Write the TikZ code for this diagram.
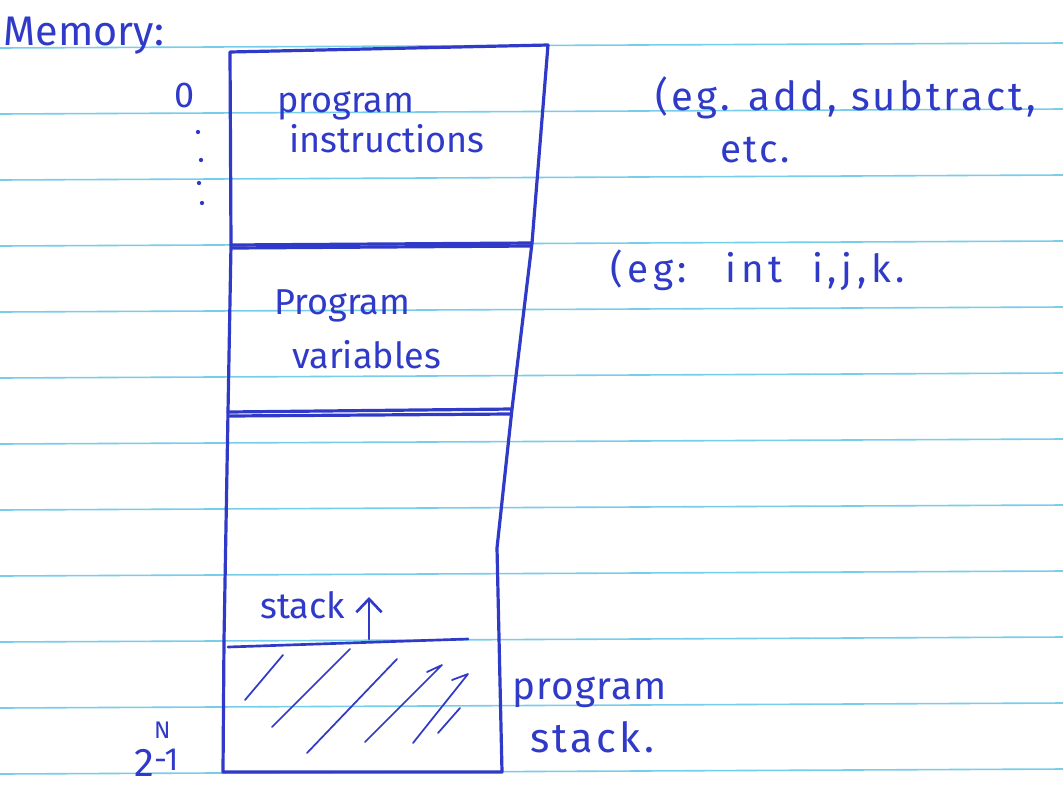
\documentclass[tikz,border=0pt]{standalone}
\usepackage{fontspec}
\setmainfont{Fira Sans}
\usetikzlibrary{arrows.meta}
\definecolor{ink}{RGB}{48,58,200}
\definecolor{ruling}{RGB}{120,205,235}
\begin{document}
\begin{tikzpicture}[x=0.75pt,y=-0.75pt,
  pen/.style={draw=ink,line width=2.4pt,line cap=round,line join=round},
  hatch/.style={draw=ink,line width=1.3pt,line cap=round,line join=round},
  hand/.style={text=ink,font=\fontsize{27}{32}\selectfont,inner sep=0pt},
  note/.style={hand,anchor=base west}]
\useasboundingbox (0,0) rectangle (1063,786);
\fill[white] (0,0) rectangle (1063,786);

% ruled notebook lines
\foreach \y in {48,114,180,246,312,378,444,510,576,642,708,774}
  \draw[ruling,line width=1.2pt] (0,\y) -- (1063,\y-5);

% outline of the memory column
\coordinate (tl) at (230,52);
\coordinate (tr) at (548,45);
\coordinate (l1) at (231,245);
\coordinate (r1) at (532,243);
\coordinate (l2) at (228,412);
\coordinate (r2) at (512,409);
\coordinate (l3) at (224,640);
\coordinate (r3) at (497,548);
\coordinate (bl) at (223,772);
\coordinate (br) at (502,772);
\draw[pen] (tl) -- (tr) -- (r1) -- (r2) -- (r3) -- (br) -- (bl) -- (l3) -- (l2) -- (l1) -- cycle;

% section dividers
\draw[pen] (l1) -- (r1);
\draw[pen] (233,248) -- (530,246);
\draw[pen] (l2) -- (r2);
\draw[pen] (230,416) -- (510,414);

% top of the stack and its growth direction
\coordinate (stl) at (228,647);
\coordinate (str) at (468,639);
\draw[pen,line width=2pt] (stl) -- (str);
\coordinate (sa) at (369,639);
\coordinate (sb) at (369,597);
\draw[pen,line width=2pt,-{Straight Barb[length=10pt,width=19pt]}] (sa) -- (sb);

% hatched stack contents
\draw[hatch] (283,655) -- (245,700);
\draw[hatch] (350,649) -- (272,727);
\draw[hatch] (397,659) -- (307,753);
\draw[hatch] (427,672) -- (442,665) -- (365,742);
\draw[hatch] (452,680) -- (468,674) -- (413,743);
\draw[hatch] (460,708) -- (438,733);

% labels
\node[hand] (mem) at (84,36) {\fontsize{31}{34}\selectfont Memory:};
\node[hand] (zero) at (185,95) {0};
\foreach \x/\y in {198/132,201/160,199/183,202/203}
  \fill[ink] (\x,\y) circle (1.6pt);
\node[note] (pi1) at (277,112) {program};
\node[note] (pi2) at (289,152) {instructions};
\node[note] (eg1) at (655,110) {\fontsize{30}{34}\selectfont\addfontfeature{LetterSpace=8}(eg. add, subtract,};
\node[note] (eg2) at (720,162) {\fontsize{29}{34}\selectfont\addfontfeature{LetterSpace=6}etc.};
\node[note] (eg3) at (610,282) {\fontsize{29}{34}\selectfont\addfontfeature{LetterSpace=12}(eg:\quad int\ \ i,j,k.};
\node[note] (pv1) at (274,314) {Program};
\node[note] (pv2) at (292,368) {variables};
\node[note] (stk) at (260,618) {stack};
\node[note] (ps1) at (512,699) {\fontsize{29}{34}\selectfont\addfontfeature{LetterSpace=3}program};
\node[note] (ps2) at (530,752) {\fontsize{31}{34}\selectfont\addfontfeature{LetterSpace=8}stack.};
\node[hand,anchor=base west] (top) at (134,776)
  {{\fontsize{30}{30}\selectfont 2}\rlap{\raisebox{28pt}{\fontsize{18}{18}\selectfont N}}\raisebox{4pt}{\fontsize{24}{24}\selectfont -1}};
\end{tikzpicture}
\end{document}
